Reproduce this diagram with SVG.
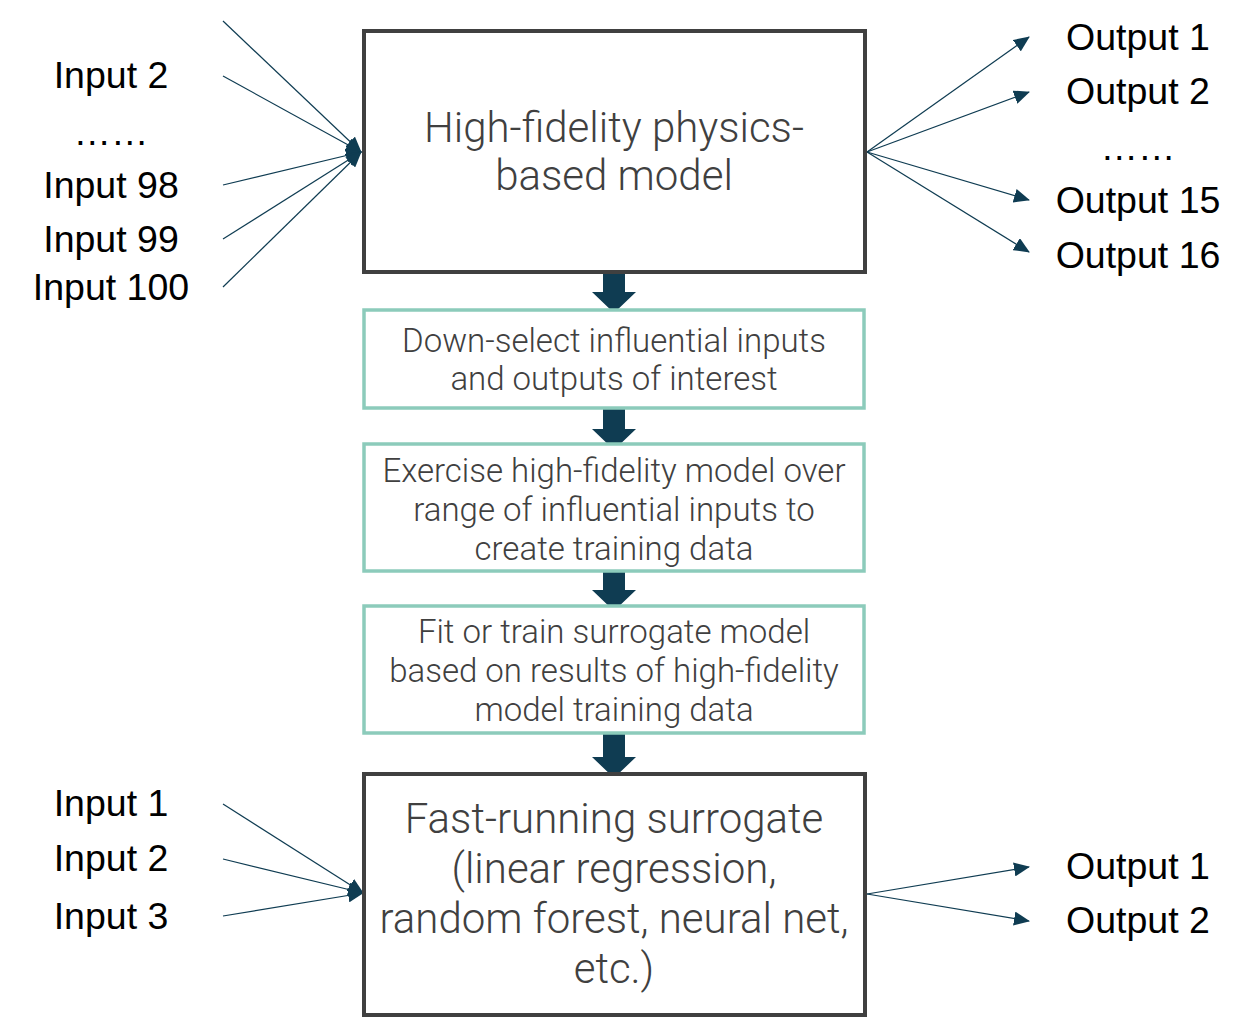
<svg xmlns="http://www.w3.org/2000/svg" width="1252" height="1022" viewBox="0 0 1252 1022">
<defs>
<style>
.lbl{font-family:"Liberation Sans",Arial,sans-serif;font-size:37.5px;fill:#000;text-anchor:middle}
.big{font-family:Roboto,"Open Sans",sans-serif;font-weight:300;font-size:42px;fill:#404040;text-anchor:middle}
.mid{font-family:Roboto,"Open Sans",sans-serif;font-weight:300;font-size:33px;fill:#404040;text-anchor:middle}
.mainbox{fill:#fff;stroke:#404040;stroke-width:4}
.stepbox{fill:#fff;stroke:#8ccbbb;stroke-width:3.5}
.con{stroke:#0f3c52;stroke-width:1.2;fill:none;marker-end:url(#ah)}
.blk{fill:#0f3c52}
</style>
<marker id="ah" markerUnits="userSpaceOnUse" markerWidth="16" markerHeight="14" refX="15" refY="7" orient="auto">
<path d="M0,0 L16,7 L0,14 z" fill="#0f3c52"/>
</marker>
</defs>
<rect width="1252" height="1022" fill="#fff"/>

<g id="connectors">
<line class="con" x1="223" y1="21" x2="361" y2="152"/>
<line class="con" x1="223" y1="76" x2="361" y2="152"/>
<line class="con" x1="223" y1="185" x2="361" y2="152"/>
<line class="con" x1="223" y1="239" x2="361" y2="152"/>
<line class="con" x1="223" y1="287" x2="361" y2="152"/>
<line class="con" x1="867" y1="152" x2="1029" y2="37"/>
<line class="con" x1="867" y1="152" x2="1029" y2="92"/>
<line class="con" x1="867" y1="152" x2="1029" y2="200"/>
<line class="con" x1="867" y1="152" x2="1029" y2="252"/>
<line class="con" x1="223" y1="804" x2="363" y2="893"/>
<line class="con" x1="223" y1="859" x2="363" y2="893"/>
<line class="con" x1="223" y1="916" x2="363" y2="893"/>
<line class="con" x1="867" y1="894" x2="1029" y2="867"/>
<line class="con" x1="867" y1="894" x2="1029" y2="921"/>
<polygon class="blk" points="603,265 625,265 625,292 636,292 614,313 592,292 603,292"/>
<polygon class="blk" points="603,402 625,402 625,429 636,429 614,450 592,429 603,429"/>
<polygon class="blk" points="603,563 625,563 625,590 636,590 614,611 592,590 603,590"/>
<polygon class="blk" points="603,730 625,730 625,757 636,757 614,778 592,757 603,757"/>
</g>

<g id="hifi">
<rect class="mainbox" x="364" y="31" width="501" height="241"/>
<text class="big" x="614" y="142">High-fidelity physics-</text>
<text class="big" x="614" y="190">based model</text>
</g>

<g id="downselect">
<rect class="stepbox" x="364" y="310" width="500" height="98"/>
<text class="mid" x="614" y="352">Down-select influential inputs</text>
<text class="mid" x="614" y="390">and outputs of interest</text>
</g>

<g id="exercise">
<rect class="stepbox" x="364" y="444" width="500" height="127"/>
<text class="mid" x="614" y="482">Exercise high-fidelity model over</text>
<text class="mid" x="614" y="521">range of influential inputs to</text>
<text class="mid" x="614" y="560">create training data</text>
</g>

<g id="fit">
<rect class="stepbox" x="364" y="606" width="500" height="127"/>
<text class="mid" x="614" y="643">Fit or train surrogate model</text>
<text class="mid" x="614" y="682">based on results of high-fidelity</text>
<text class="mid" x="614" y="721">model training data</text>
</g>

<g id="surrogate">
<rect class="mainbox" x="364" y="774" width="501" height="241"/>
<text class="big" x="614" y="833">Fast-running surrogate</text>
<text class="big" x="614" y="883">(linear regression,</text>
<text class="big" x="614" y="933">random forest, neural net,</text>
<text class="big" x="614" y="983">etc.)</text>
</g>

<g id="inputs-top">
<text class="lbl" x="111" y="88">Input 2</text>
<text class="lbl" x="111" y="145">……</text>
<text class="lbl" x="111" y="198">Input 98</text>
<text class="lbl" x="111" y="252">Input 99</text>
<text class="lbl" x="111" y="300">Input 100</text>
</g>

<g id="outputs-top">
<text class="lbl" x="1138" y="50">Output 1</text>
<text class="lbl" x="1138" y="104">Output 2</text>
<text class="lbl" x="1138" y="160">……</text>
<text class="lbl" x="1138" y="213">Output 15</text>
<text class="lbl" x="1138" y="268">Output 16</text>
</g>

<g id="inputs-bottom">
<text class="lbl" x="111" y="816">Input 1</text>
<text class="lbl" x="111" y="871">Input 2</text>
<text class="lbl" x="111" y="929">Input 3</text>
</g>

<g id="outputs-bottom">
<text class="lbl" x="1138" y="879">Output 1</text>
<text class="lbl" x="1138" y="933">Output 2</text>
</g>
</svg>
